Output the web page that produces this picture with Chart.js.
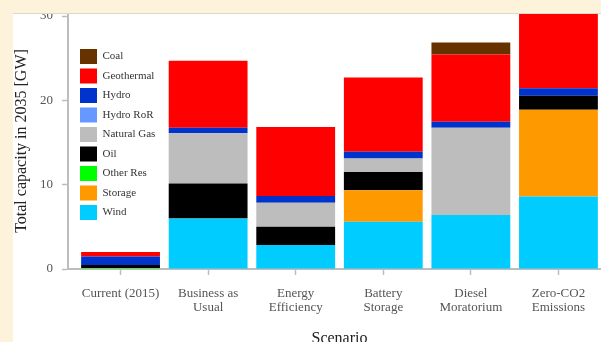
<!DOCTYPE html>
<html>
<head>
<meta charset="utf-8">
<script src="https://cdn.jsdelivr.net/npm/chart.js@4/dist/chart.umd.min.js"></script>
<style>
  html, body { margin: 0; padding: 0; width: 601px; height: 342px; overflow: hidden; background: #fcf3da; }
  #panel { position: absolute; left: 13px; top: 13px; width: 620px; height: 340px; background: #ffffff; border-top: 1px solid #dcd8cc; box-sizing: border-box; overflow: hidden; }
  #wrap { position: absolute; left: 0; top: -1px; width: 598px; height: 340px; }
</style>
</head>
<body>
<div id="panel"><div id="wrap"><canvas id="c" width="598" height="340"></canvas></div></div>
<script>
// ---- data (GW) ----
const categories = ['Current (2015)', 'Business as Usual', 'Energy Efficiency', 'Battery Storage', 'Diesel Moratorium', 'Zero-CO2 Emissions'];
const xTickLabels = [['Current (2015)'], ['Business as', 'Usual'], ['Energy', 'Efficiency'], ['Battery', 'Storage'], ['Diesel', 'Moratorium'], ['Zero-CO2', 'Emissions']];
const yTickValues = [0, 10, 20, 30];

const wind       = [0,    6.0,  2.85, 5.6,  6.4,   8.6];
const storage    = [0,    0,    0,    3.75, 0,     10.3];
const otherRes   = [0.12, 0,    0,    0,    0,     0];
const oil        = [0.35, 4.15, 2.15, 2.15, 0,     1.65];
const naturalGas = [0,    5.95, 2.85, 1.6,  10.35, 0];
const hydroRoR   = [0,    0,    0,    0,    0,     0];
const hydro      = [1.0,  0.65, 0.8,  0.8,  0.7,   0.9];
const geothermal = [0.55, 7.95, 8.2,  8.8,  8.0,   9.0];
const coal       = [0,    0,    0,    0,    1.4,   0];

// stacking order bottom -> top
const seriesNames  = ['Wind', 'Storage', 'Other Res', 'Oil', 'Natural Gas', 'Hydro RoR', 'Hydro', 'Geothermal', 'Coal'];
const seriesValues = [wind, storage, otherRes, oil, naturalGas, hydroRoR, hydro, geothermal, coal];
const seriesColors = ['#00ccff', '#ff9900', '#00ff00', '#000000', '#bdbdbd', '#6699ff', '#0033cc', '#ff0000', '#663300'];

const serif = "'Liberation Serif', 'DejaVu Serif', serif";
Chart.defaults.font.family = serif;

const datasets = seriesNames.map((name, k) => ({
  label: name,
  data: seriesValues[k].map((v, i) => ({ x: i + 1, y: v })),
  backgroundColor: seriesColors[k],
  borderWidth: 0,
  barPercentage: 0.9,
  categoryPercentage: 1.0
}));

const legendShift = {
  id: 'legendShift',
  afterLayout(chart) {
    const l = chart.legend;
    if (!l) return;
    const ca = chart.chartArea;
    l.left = ca.left + 7.5;
    l.top = ca.top + 31.5;
    l.right = l.left + l.width;
    l.bottom = ca.bottom;
  }
};

new Chart(document.getElementById('c'), {
  type: 'bar',
  data: { datasets },
  plugins: [legendShift],
  options: {
    responsive: false,
    animation: false,
    layout: { padding: 0 },
    plugins: {
      tooltip: { enabled: false },
      legend: {
        position: 'chartArea',
        align: 'start',
        reverse: true,
        labels: {
          boxWidth: 17,
          boxHeight: 15,
          padding: 4.5,
          color: '#333333',
          font: { family: serif, size: 11 }
        }
      }
    },
    scales: {
      x: {
        type: 'linear',
        stacked: true,
        offset: false,
        min: 0.4,
        max: 6.6,
        afterBuildTicks: s => { s.ticks = categories.map((c, i) => ({ value: i + 1 })); },
        afterFit: s => { s.height = 84; s.paddingLeft = 0; s.paddingRight = 0; },
        grid: { offset: false, drawOnChartArea: false, drawTicks: true, tickLength: 6, tickColor: '#bdbdbd', tickWidth: 1.5 },
        border: { display: true, color: '#bdbdbd', width: 2 },
        ticks: {
          autoSkip: false,
          maxRotation: 0,
          padding: 11,
          color: '#555555',
          font: { family: serif, size: 13, lineHeight: 1.1 },
          callback: v => xTickLabels[Math.round(v) - 1]
        },
        title: {
          display: true,
          text: 'Scenario',
          color: '#222222',
          font: { family: serif, size: 16 },
          padding: { top: 0, bottom: 4.4 }
        }
      },
      y: {
        stacked: true,
        min: 0,
        max: 30.36,
        afterBuildTicks: s => { s.ticks = yTickValues.map(v => ({ value: v })); },
        afterFit: s => { s.width = 55; s.paddingTop = 0; s.paddingBottom = 0; },
        grid: { drawOnChartArea: false, drawTicks: true, tickLength: 6, tickColor: '#bdbdbd', tickWidth: 1.5 },
        border: { display: true, color: '#bdbdbd', width: 2 },
        ticks: {
          padding: 9,
          color: '#555555',
          font: { family: serif, size: 13 }
        },
        title: {
          display: true,
          text: 'Total capacity in 2035 [GW]',
          color: '#222222',
          font: { family: serif, size: 16, lineHeight: 1 },
          padding: { top: 0.5, bottom: 0 }
        }
      }
    }
  }
});
</script>
</body>
</html>
